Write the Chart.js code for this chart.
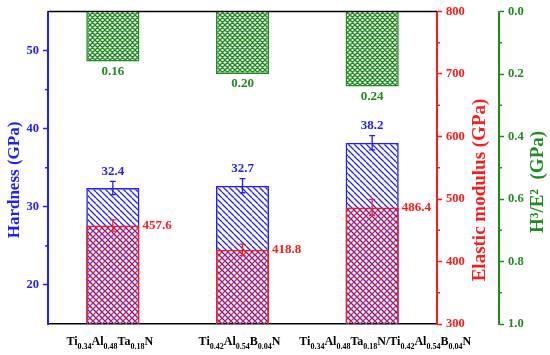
<!DOCTYPE html>
<html>
<head>
<meta charset="utf-8">
<script src="https://cdn.jsdelivr.net/npm/chart.js@4.4.0/dist/chart.umd.min.js"></script>
<style>
    body { margin: 0; background: #fff; }
    #wrap { width: 550px; height: 355px; position: relative; }
</style>
</head>
<body>
<div id="wrap"><canvas id="chart"></canvas></div>
<script>
// chart data
const categories = ['Ti0.34Al0.48Ta0.18N', 'Ti0.42Al0.54B0.04N', 'Ti0.34Al0.48Ta0.18N/Ti0.42Al0.54B0.04N'];
const hardness = [32.4, 32.7, 38.2];
const hardnessErr = [0.85, 0.9, 0.9];
const modulus = [457.6, 418.8, 486.4];
const modulusErr = [9, 9, 13];
const h3e2 = [0.16, 0.20, 0.24];

// axis ticks
const hardnessTicks = [20, 30, 40, 50];
const hardnessMinor = [25, 35, 45];
const modulusTicks = [300, 400, 500, 600, 700, 800];
const modulusMinor = [350, 450, 550, 650, 750];
const ratioTicks = [0, 0.2, 0.4, 0.6, 0.8, 1.0];
const ratioMinor = [0.1, 0.3, 0.5, 0.7, 0.9];

const BLUE = '#1f1fff';
const RED = '#ff1a1a';
const GREEN = '#1f8c1f';
const FONT = 'Liberation Serif';
// x label nudges (px), the long label sits a bit right of its bar
const labelShift = [-3, -3, 13];

const canvas = document.getElementById('chart');
const mainCtx = canvas.getContext('2d');

// hatch fill patterns
function hatch(color, dirs, size, lw) {
    const c = document.createElement('canvas');
    c.width = c.height = size;
    const g = c.getContext('2d');
    g.strokeStyle = color;
    g.lineWidth = lw;
    g.beginPath();
    for (let k = -1; k <= 1; k++) {
        if (dirs.includes('\\')) { g.moveTo(0, k * size); g.lineTo(size, (k + 1) * size); }
        if (dirs.includes('/')) { g.moveTo(0, (k + 1) * size); g.lineTo(size, k * size); }
    }
    g.stroke();
    return mainCtx.createPattern(c, 'repeat');
}

const blueHatch = hatch(BLUE, '\\', 6, 1.3);
const redHatch = hatch(RED, '/', 6, 1.3);
const greenHatch = hatch(GREEN, '\\/', 5, 1.4);

function fixTicks(list) {
    return s => { s.ticks = list.map(v => ({ value: v })); };
}

function axis(color, side, min, max, list, width, extra) {
    return Object.assign({
        position: side,
        min: min,
        max: max,
        afterBuildTicks: fixTicks(list),
        afterFit: s => { s.width = width; },
        grid: { display: true, drawOnChartArea: false, drawTicks: true, tickLength: 5, tickColor: color, tickWidth: 1.5 },
        border: { color: color, width: 2 },
        ticks: { color: color, font: { family: FONT, size: 12.5, weight: 'bold' }, padding: 4 }
    }, extra || {});
}

// subscripted formula text
function drawFormula(ctx, text, cx, baseline) {
    const parts = text.split(/(\d+\.\d+)/).filter(p => p.length);
    const big = 'bold 12px ' + FONT, small = 'bold 8px ' + FONT;
    let w = 0;
    parts.forEach(p => {
        ctx.font = /^\d/.test(p) ? small : big;
        w += ctx.measureText(p).width;
    });
    let x = cx - w / 2;
    ctx.textAlign = 'left';
    ctx.textBaseline = 'alphabetic';
    parts.forEach(p => {
        const sub = /^\d/.test(p);
        ctx.font = sub ? small : big;
        ctx.fillText(p, x, sub ? baseline + 3.5 : baseline);
        x += ctx.measureText(p).width;
    });
}

const extrasPlugin = {
    id: 'extras',
    afterDraw(chart) {
        const ctx = chart.ctx;
        const area = chart.chartArea;
        const sx = chart.scales.x, sH = chart.scales.yH, sE = chart.scales.yE, sG = chart.scales.yG;
        ctx.save();

        // top frame line
        ctx.strokeStyle = '#000';
        ctx.lineWidth = 1.5;
        ctx.beginPath();
        ctx.moveTo(area.left, area.top);
        ctx.lineTo(area.right, area.top);
        ctx.stroke();

        // minor ticks
        ctx.lineWidth = 1.5;
        [[sH, hardnessMinor, BLUE, -1], [sE, modulusMinor, RED, 1], [sG, ratioMinor, GREEN, 1]].forEach(([s, vals, col, dir]) => {
            const x0 = dir < 0 ? s.right : s.left;
            ctx.strokeStyle = col;
            vals.forEach(v => {
                const y = s.getPixelForValue(v);
                ctx.beginPath();
                ctx.moveTo(x0, y);
                ctx.lineTo(x0 + dir * 3, y);
                ctx.stroke();
            });
        });

        // error bars + value labels
        const meta = chart.getDatasetMeta(0);
        const barW = meta.data[0].width;
        categories.forEach((c, i) => {
            const cx = sx.getPixelForValue(i);

            // hardness
            let yt = sH.getPixelForValue(hardness[i] + hardnessErr[i]);
            let yb = sH.getPixelForValue(hardness[i] - hardnessErr[i]);
            ctx.strokeStyle = BLUE;
            ctx.lineWidth = 1.3;
            ctx.beginPath();
            ctx.moveTo(cx, yt); ctx.lineTo(cx, yb);
            ctx.moveTo(cx - 3, yt); ctx.lineTo(cx + 3, yt);
            ctx.moveTo(cx - 3, yb); ctx.lineTo(cx + 3, yb);
            ctx.stroke();
            ctx.fillStyle = BLUE;
            ctx.font = 'bold 13px ' + FONT;
            ctx.textAlign = 'center';
            ctx.textBaseline = 'middle';
            ctx.fillText(hardness[i].toFixed(1), cx, yt - 10);

            // modulus
            yt = sE.getPixelForValue(modulus[i] + modulusErr[i]);
            yb = sE.getPixelForValue(modulus[i] - modulusErr[i]);
            ctx.strokeStyle = RED;
            ctx.beginPath();
            ctx.moveTo(cx, yt); ctx.lineTo(cx, yb);
            ctx.moveTo(cx - 3, yt); ctx.lineTo(cx + 3, yt);
            ctx.moveTo(cx - 3, yb); ctx.lineTo(cx + 3, yb);
            ctx.stroke();
            ctx.fillStyle = RED;
            ctx.textAlign = 'left';
            ctx.fillText(modulus[i].toFixed(1), cx + barW / 2 + 3, sE.getPixelForValue(modulus[i]));

            // H3/E2
            ctx.fillStyle = GREEN;
            ctx.textAlign = 'center';
            ctx.fillText(h3e2[i].toFixed(2), cx, sG.getPixelForValue(h3e2[i]) + 10);

            // category label
            ctx.fillStyle = '#000';
            drawFormula(ctx, c, cx + labelShift[i], 345);
        });

        // axis titles, all read bottom to top
        ctx.textAlign = 'center';
        ctx.textBaseline = 'middle';
        [
            ['Hardness (GPa)', BLUE, 15, 180, 17],
            ['Elastic modulus (GPa)', RED, 480, 190, 19],
            ['H\u00b3/E\u00b2  (GPa)', GREEN, 538, 182, 19]
        ].forEach(([t, col, x, y, size]) => {
            ctx.save();
            ctx.translate(x, y);
            ctx.rotate(-Math.PI / 2);
            ctx.font = 'bold ' + size + 'px ' + FONT;
            ctx.fillStyle = col;
            ctx.fillText(t, 0, 0);
            ctx.restore();
        });

        ctx.restore();
    }
};

new Chart(canvas, {
    type: 'bar',
    data: {
        labels: categories,
        datasets: [
            { label: 'Elastic modulus', data: modulus, yAxisID: 'yE', backgroundColor: redHatch, borderColor: RED, borderWidth: 1.5, grouped: false, barPercentage: 0.41, categoryPercentage: 1 },
            { label: 'Hardness', data: hardness, yAxisID: 'yH', backgroundColor: blueHatch, borderColor: BLUE, borderWidth: 1.5, grouped: false, barPercentage: 0.41, categoryPercentage: 1 },
            { label: 'H3/E2', data: h3e2, yAxisID: 'yG', backgroundColor: greenHatch, borderColor: GREEN, borderWidth: 1.5, grouped: false, barPercentage: 0.41, categoryPercentage: 1 }
        ]
    },
    options: {
        responsive: true,
        maintainAspectRatio: false,
        animation: false,
        layout: { padding: { top: 11, left: 0, right: 0, bottom: 0 } },
        plugins: { legend: { display: false }, tooltip: { enabled: false } },
        scales: {
            x: {
                grid: { display: false },
                border: { color: '#000', width: 1.5 },
                ticks: { display: false },
                afterFit: s => { s.height = 31; }
            },
            yH: axis(BLUE, 'left', 15, 55, hardnessTicks, 48),
            yE: axis(RED, 'right', 300, 800, modulusTicks, 62, { weight: 0 }),
            yG: axis(GREEN, 'right', 0, 1, ratioTicks, 51, {
                weight: 1,
                reverse: true
            })
        }
    },
    plugins: [extrasPlugin]
});
// green tick labels with one decimal
Chart.getChart(canvas).options.scales.yG.ticks.callback = v => Number(v).toFixed(1);
Chart.getChart(canvas).update();
</script>
</body>
</html>
